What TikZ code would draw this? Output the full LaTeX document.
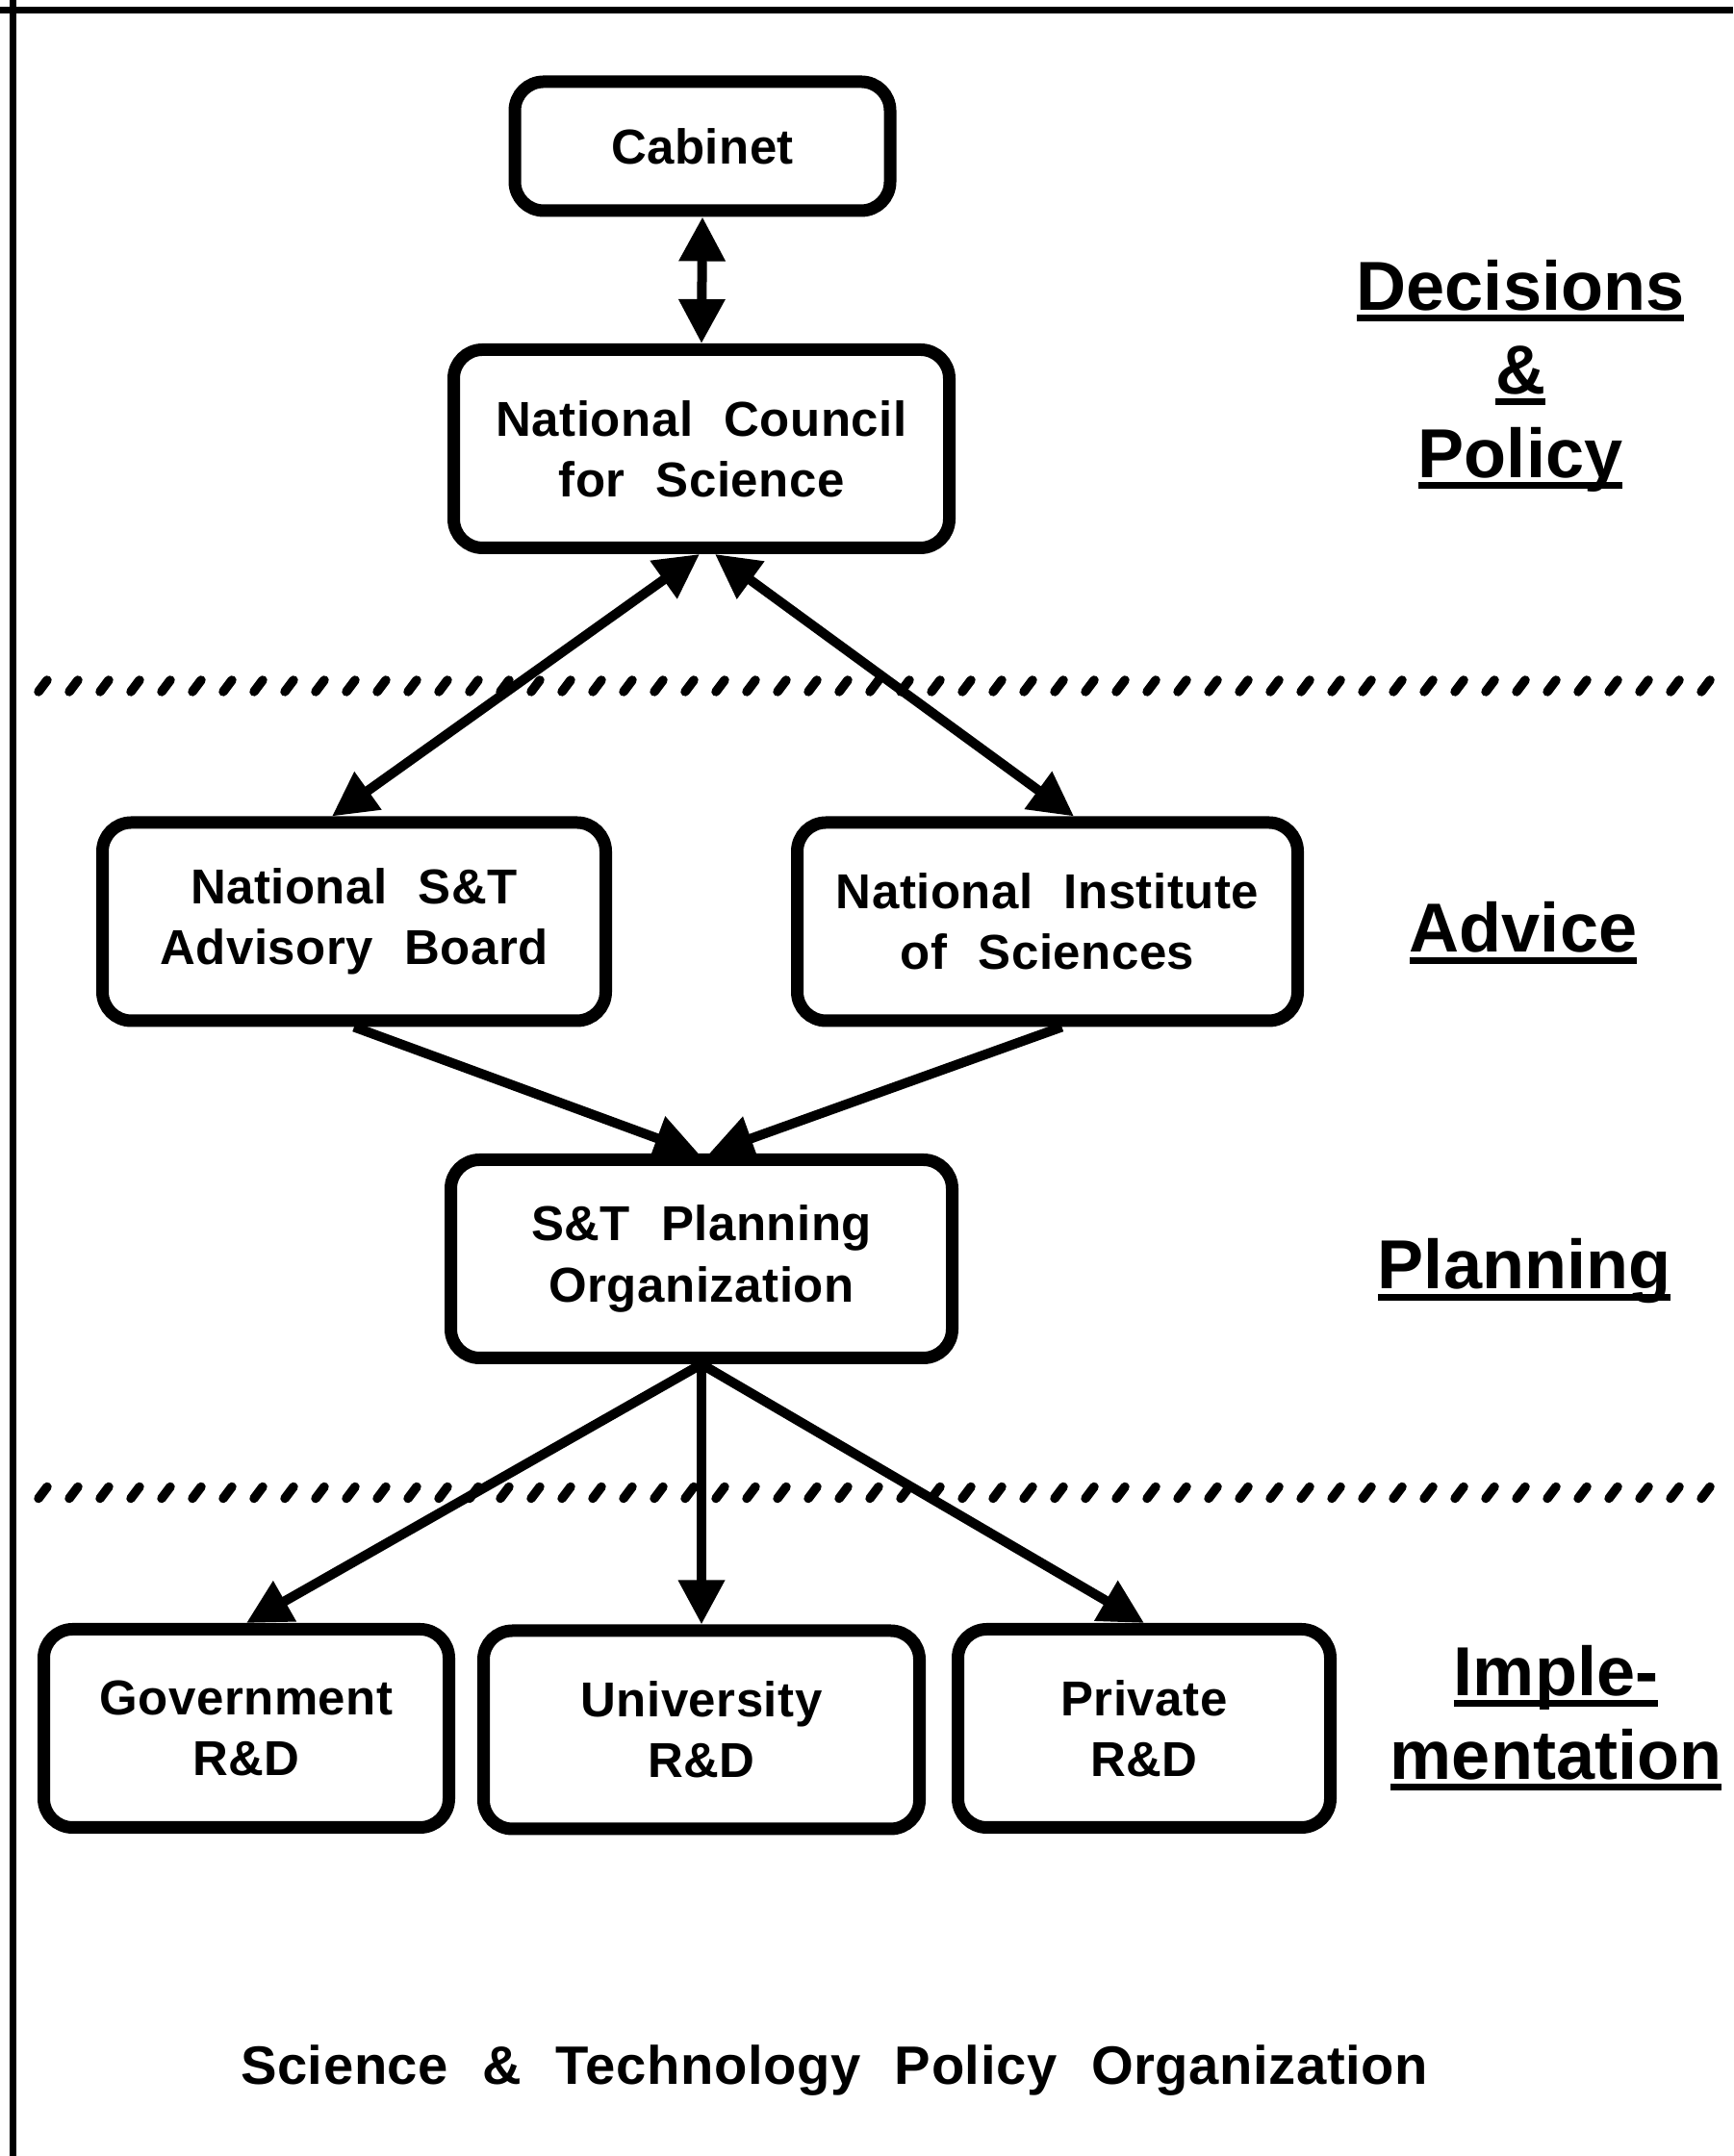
\documentclass[tikz,border=0pt]{standalone}
\usepackage{fontspec}
\setmainfont{Liberation Sans}
\newfontfamily\boxfont{Liberation Sans}[WordSpace=3,LetterSpace=1]
\newfontfamily\capfont{Liberation Sans}[WordSpace=2.2,LetterSpace=1]
\usepackage{tikz}
\usetikzlibrary{arrows.meta, positioning, calc}

% thick underline for the layer names
\newcommand{\ulbar}[1]{\sbox0{#1}\rlap{\rule[-3.3pt]{\wd0}{2pt}}\usebox0}

\tikzset{
  orgbox/.style={draw, line width=1.3mm, rounded corners=3mm, align=center, inner sep=1mm,
    font=\boxfont\bfseries\fontsize{14.5}{18}\selectfont, minimum height=20.6mm},
  link/.style={line width=1mm, -{Triangle[length=4.6mm,width=4.6mm]}},
  twoway/.style={line width=1mm, {Triangle[length=4.6mm,width=4.6mm]}-{Triangle[length=4.6mm,width=4.6mm]}},
  layer/.style={font=\bfseries\fontsize{20.5}{24.7}\selectfont, align=center},
  hatch/.style={line width=0.95mm, line cap=round}
}

\begin{document}
\begin{tikzpicture}
  \useasboundingbox (0,0) rectangle (18.01,22.41);

  % frame
  \draw[line width=0.7mm] (0,22.30) -- (18.01,22.30);
  \draw[line width=0.7mm] (0.13,22.41) -- (0.13,0);

  % dividers
  \foreach \x in {0.40,0.72,...,17.80}{
    \draw[hatch] (\x,15.22) -- ++(0.09,0.12);
    \draw[hatch] (\x,6.835) -- ++(0.09,0.12);
  }

  % boxes
  \node[orgbox, minimum width=39mm, minimum height=13.4mm] (cabinet) at (7.30,20.89) {Cabinet};
  \node[orgbox, minimum width=51.5mm] (ncs) at (7.29,17.745) {National Council\\for Science};
  \node[orgbox, minimum width=52.3mm] (adv) at (3.68,12.83) {National S\&T\\Advisory Board};
  \node[orgbox, minimum width=52mm] (nis) at (10.885,12.83) {National Institute\\of Sciences};
  \node[orgbox, minimum width=52.1mm] (plan) at (7.29,9.325) {S\&T Planning\\Organization};
  \node[orgbox, minimum width=42.1mm] (gov) at (2.56,4.445) {Government\\R\&D};
  \node[orgbox, minimum width=45.3mm] (univ) at (7.29,4.43) {University\\R\&D};
  \node[orgbox, minimum width=38.7mm] (priv) at (11.89,4.445) {Private\\R\&D};

  % connectors
  \draw[twoway] (cabinet.south) -- (ncs.north);
  \draw[twoway] ([xshift=-0.2mm]ncs.south) -- ([xshift=-2.3mm]adv.north);
  \draw[twoway] ([xshift=1.4mm]ncs.south) -- ([xshift=2.75mm]nis.north);
  \draw[link] (adv.south) -- ([xshift=-0.3mm]plan.north);
  \draw[link] ([xshift=1.5mm]nis.south) -- ([xshift=0.8mm]plan.north);
  \draw[link] (plan.south) -- (gov.north);
  \draw[link] (plan.south) -- (univ.north);
  \draw[link] (plan.south) -- (priv.north);

  % layer names
  \node[layer] (decide) at (15.80,18.50) {\ulbar{Decisions}\\\ulbar{\&}\\\ulbar{Policy}};
  \node[layer, anchor=base] (advice) at (15.83,12.51) {\ulbar{Advice}};
  \node[layer, anchor=base] (planning) at (15.84,9.01) {\ulbar{Planning}};
  \node[layer] (implement) at (16.17,4.555) {\ulbar{Imple-}\\\ulbar{mentation}};

  % caption
  \node[font=\capfont\bfseries\fontsize{16}{19}\selectfont, anchor=base] (caption) at (8.67,0.74)
    {Science \& Technology Policy Organization};
\end{tikzpicture}
\end{document}
